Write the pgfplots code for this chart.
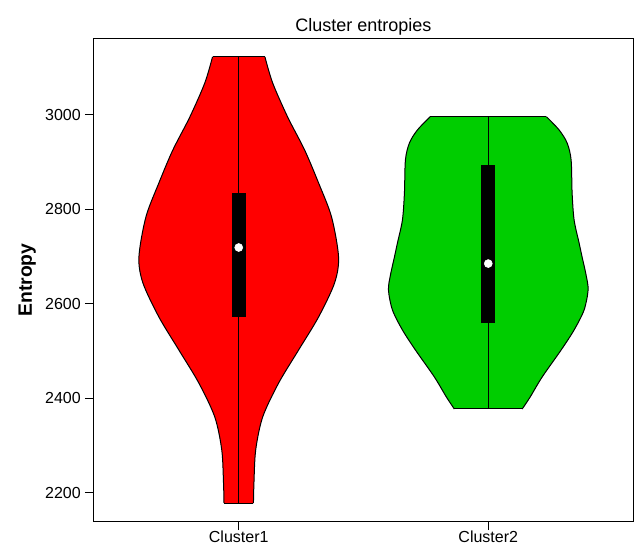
\documentclass[border=0pt]{standalone}
\usepackage{pgfplots}
\pgfplotsset{compat=1.18}
\usepackage{pgfplotstable}
\usepackage{fontspec}
\setmainfont{Liberation Sans}
\definecolor{vred}{RGB}{255,0,0}
\definecolor{vgreen}{RGB}{0,205,0}

% violin half-widths (x units) at entropy values
\pgfplotstableread{
y w
3122.8 0.105
3067.5 0.136
2995.4 0.196
2925.6 0.264
2855.7 0.320
2783.7 0.372
2699.0 0.400
2643.9 0.384
2571.9 0.320
2502.0 0.240
2432.1 0.160
2360.1 0.096
2290.2 0.068
2220.3 0.061
2177.6 0.059
}\vA

\pgfplotstableread{
y w
2996.0 0.233
2967.9 0.284
2940.4 0.316
2904.4 0.332
2834.5 0.336
2777.3 0.344
2728.6 0.364
2699.0 0.376
2660.8 0.392
2629.1 0.400
2586.7 0.384
2544.4 0.344
2502.0 0.292
2444.8 0.216
2402.5 0.168
2377.0 0.136
}\vB

\begin{document}
\begin{tikzpicture}
\path[use as bounding box] (-70.5pt,-18.75pt) rectangle (405.75pt,390.75pt);
\begin{axis}[
  at={(0pt,0pt)}, anchor=south west,
  scale only axis, width=404.25pt, height=361.5pt,
  xmin=0.42, xmax=2.58, ymin=2139.8, ymax=3160.6,
  xtick={1,2}, xticklabels={Cluster1,Cluster2},
  ytick={2200,2400,2600,2800,3000},
  tick align=outside, tick pos=left, major tick length=6.75pt,
  axis line style={line width=0.75pt},
  tick style={black, line width=0.75pt},
  ticklabel style={font=\fontsize{12}{14}\selectfont, inner sep=3pt},
  xticklabel style={inner sep=0.8pt},
  /pgf/number format/assume math mode=true,
  /pgf/number format/1000 sep={},
  every axis title shift=0pt,
  title={Cluster entropies},
  title style={font=\fontsize{13.5}{16}\selectfont, at={(axis description cs:0.5,1)}, anchor=base, yshift=5.6pt},
  ylabel={Entropy},
  ylabel style={font=\bfseries\fontsize{14.5}{17}\selectfont, at={(axis description cs:-0.124,0.5)}, anchor=center},
]
% Cluster1 violin fill (two halves)
\addplot[fill=vred, draw=none, smooth] table[x expr=1-\thisrow{w}, y=y]{\vA} -- (axis cs:1,2177.6) -- (axis cs:1,3122.8) -- cycle;
\addplot[fill=vred, draw=none, smooth] table[x expr=1+\thisrow{w}, y=y]{\vA} -- (axis cs:1,2177.6) -- (axis cs:1,3122.8) -- cycle;
% Cluster2 violin fill
\addplot[fill=vgreen, draw=none, smooth] table[x expr=2-\thisrow{w}, y=y]{\vB} -- (axis cs:2,2377) -- (axis cs:2,2996) -- cycle;
\addplot[fill=vgreen, draw=none, smooth] table[x expr=2+\thisrow{w}, y=y]{\vB} -- (axis cs:2,2377) -- (axis cs:2,2996) -- cycle;
% outlines
\addplot[black, line width=0.75pt, smooth] table[x expr=1-\thisrow{w}, y=y]{\vA};
\addplot[black, line width=0.75pt, smooth] table[x expr=1+\thisrow{w}, y=y]{\vA};
\addplot[black, line width=0.75pt] coordinates {(0.895,3122.8) (1.105,3122.8)};
\addplot[black, line width=0.75pt] coordinates {(0.941,2177.6) (1.059,2177.6)};
\addplot[black, line width=0.75pt, smooth] table[x expr=2-\thisrow{w}, y=y]{\vB};
\addplot[black, line width=0.75pt, smooth] table[x expr=2+\thisrow{w}, y=y]{\vB};
\addplot[black, line width=0.75pt] coordinates {(1.767,2996) (2.233,2996)};
\addplot[black, line width=0.75pt] coordinates {(1.864,2377) (2.136,2377)};
% whiskers
\addplot[black, line width=0.75pt] coordinates {(1,2177.6) (1,3122.8)};
\addplot[black, line width=0.75pt] coordinates {(2,2377) (2,2996)};
% boxes
\addplot[black, line width=10.3pt] coordinates {(1,2572) (1,2835)};
\addplot[black, line width=10.3pt] coordinates {(2,2559) (2,2894)};
% medians
\addplot[only marks, mark=*, mark size=3pt, mark options={draw=white, fill=white}] coordinates {(1,2719) (2,2685)};
\end{axis}
\end{tikzpicture}
\end{document}
